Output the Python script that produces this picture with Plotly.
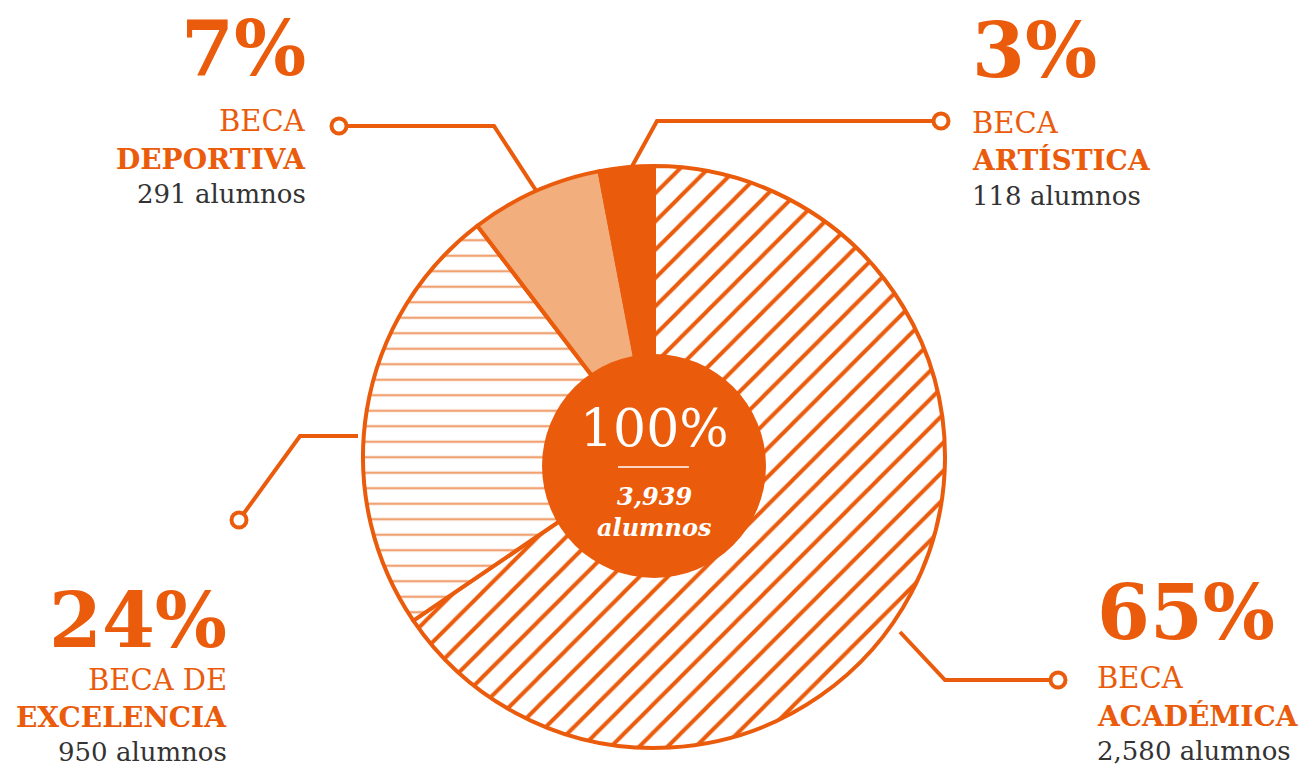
import plotly.graph_objects as go

# ---- data ----
categories = ["BECA ACADÉMICA", "BECA DE EXCELENCIA", "BECA DEPORTIVA", "BECA ARTÍSTICA"]
students = [2580, 950, 291, 118]
percent_labels = ["65%", "24%", "7%", "3%"]
total_label = "3,939"

ORANGE = "#EA5B0C"
LIGHT = "#F3AE7E"
STRIPE_LIGHT = "#F0A272"
GRAY = "#333333"
FONT = "DejaVu Serif"

W, H = 1307, 768

fig = go.Figure()

# callout lines (pixel coordinate overlay)
callouts = [
    ([900, 945, 1058], [632, 680, 680]),      # académica
    ([358, 300, 239], [436, 436, 520]),       # excelencia
    ([537, 494, 339], [192, 126, 126]),       # deportiva
    ([630, 657, 941], [170, 121, 121]),       # artística
]
for xs, ys in callouts:
    fig.add_trace(go.Scatter(x=xs, y=ys, mode="lines", line=dict(color=ORANGE, width=4),
                             hoverinfo="skip", showlegend=False))
    fig.add_trace(go.Scatter(x=[xs[-1]], y=[ys[-1]], mode="markers",
                             marker=dict(size=15, color="white", line=dict(color=ORANGE, width=4)),
                             hoverinfo="skip", showlegend=False))

# pie
cx, cy, r = 654, 457, 291
fig.add_trace(go.Pie(
    labels=categories, values=students, sort=False, direction="clockwise", rotation=0,
    textinfo="none", hoverinfo="label+value+percent", showlegend=False,
    domain=dict(x=[(cx - r) / W, (cx + r) / W], y=[(H - cy - r) / H, (H - cy + r) / H]),
    marker=dict(
        colors=["white", "white", LIGHT, ORANGE],
        line=dict(color=ORANGE, width=4),
        pattern=dict(shape=["/", "-", "", ""],
                     fgcolor=[ORANGE, STRIPE_LIGHT, LIGHT, ORANGE],
                     bgcolor=["white", "white", LIGHT, ORANGE],
                     size=[20, 15.5, 10, 10],
                     solidity=[0.2, 0.15, 0.1, 0.1],
                     fillmode="replace"),
    ),
))

# center circle
ccx, ccy, cr = 654, 466, 112
fig.add_shape(type="circle", xref="x", yref="y", x0=ccx - cr, x1=ccx + cr, y0=ccy - cr, y1=ccy + cr,
              fillcolor=ORANGE, line=dict(width=0), layer="above")
fig.add_shape(type="line", xref="x", yref="y", x0=618, x1=689, y0=467, y1=467,
              line=dict(color="white", width=1.5), layer="above")

ann = []
def txt(x, y, s, size, color, anchor, bold=False, italic=False):
    if bold:
        s = f"<b>{s}</b>"
    if italic:
        s = f"<i>{s}</i>"
    ann.append(dict(x=x, y=y, xref="x", yref="y", text=s, showarrow=False,
                    xanchor=anchor, yanchor="middle",
                    font=dict(family=FONT, size=size, color=color)))

# center text
txt(654, 428, "100%", 52, "white", "center")
txt(654, 496, total_label, 24, "white", "center", bold=True, italic=True)
txt(654, 527, "alumnos", 24, "white", "center", bold=True, italic=True)

label_pos = [
    (1095, "left", 612, 678, 716, 751),
    (229, "right", 620, 680, 717, 752),
    (308, "right", 48, 121, 159, 194),
    (970, "left", 50, 123, 160, 196),
]
line1 = ["BECA", "BECA DE", "BECA", "BECA"]
line2 = ["ACADÉMICA", "EXCELENCIA", "DEPORTIVA", "ARTÍSTICA"]
for i in range(4):
    x, anc, yp, y1, y2, yn = label_pos[i]
    txt(x, yp, percent_labels[i], 76, ORANGE, anc, bold=True)
    txt(x, y1, line1[i], 29, ORANGE, anc)
    txt(x, y2, line2[i], 28, ORANGE, anc, bold=True)
    txt(x, yn, f"{students[i]:,} alumnos", 26, GRAY, anc)

fig.update_layout(
    width=W, height=H, margin=dict(l=0, r=0, t=0, b=0),
    paper_bgcolor="white", plot_bgcolor="white",
    xaxis=dict(range=[0, W], visible=False, domain=[0, 1]),
    yaxis=dict(range=[H, 0], visible=False, domain=[0, 1]),
    annotations=ann,
)
fig.write_html("out.html", config={"displayModeBar": False},
               post_script="document.body.style.margin='0';document.body.style.overflow='hidden';")
